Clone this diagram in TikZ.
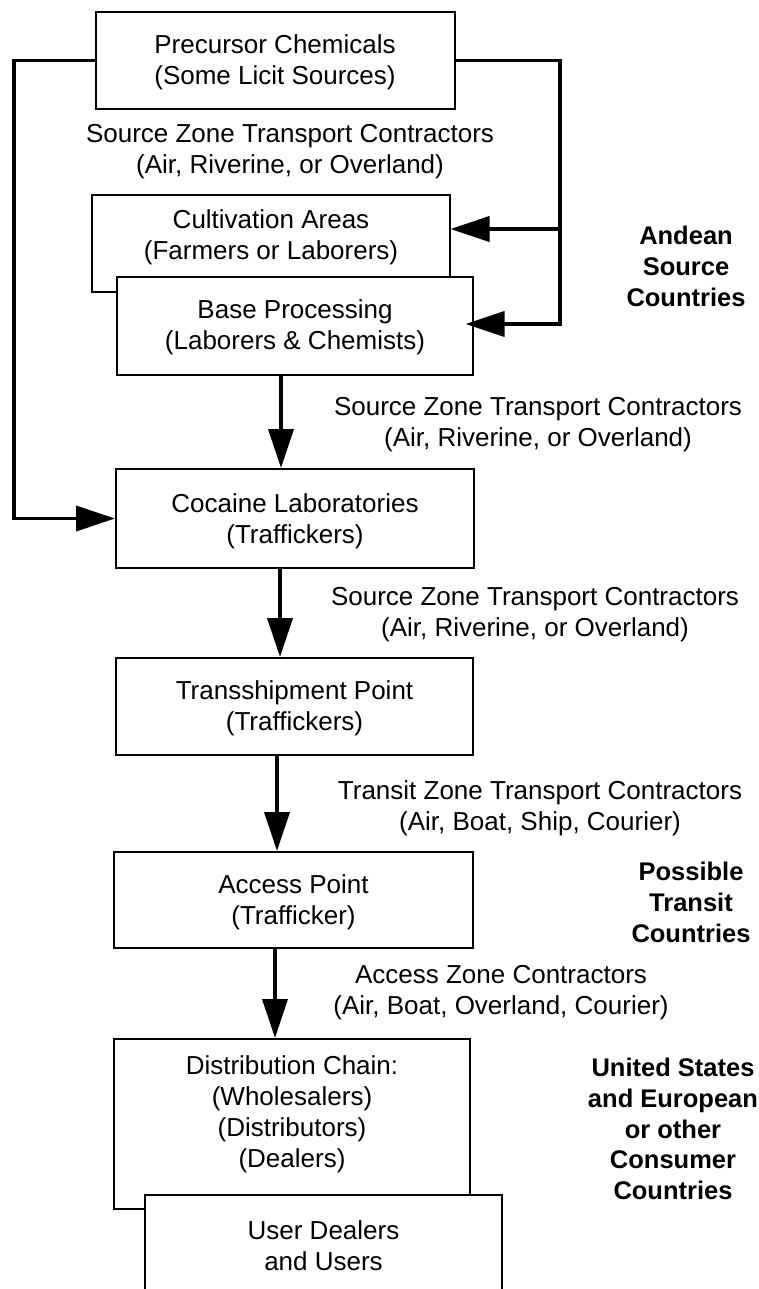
\documentclass[tikz,border=0pt]{standalone}
\usepackage{fontspec}
\setmainfont{Liberation Sans}
\usetikzlibrary{arrows.meta}
\begin{document}
\begin{tikzpicture}[x=1pt,y=-1pt,
  box/.style={draw, line width=2pt, fill=white, align=center, inner sep=0pt},
  lbl/.style={align=center, inner sep=0pt, font=\fontsize{26}{31}\selectfont},
  region/.style={align=center, inner sep=0pt, font=\bfseries\fontsize{25.5}{30.8}\selectfont},
  arr/.style={line width=3.8pt, -{Triangle[length=39pt,width=25pt]}}]
\path[use as bounding box] (0,0) rectangle (759,1289);
\fill[white] (0,0) rectangle (759,1289);
\clip (0,0) rectangle (759,1289);

% boxes
\node[box, minimum width=359pt, minimum height=97pt] (pre) at (275.5,60.5) {};
\node[lbl] (pret) at (275,62) {Precursor Chemicals\\(Some Licit Sources)};
\node[lbl] (sz1) at (290,152) {Source Zone Transport Contractors\\(Air, Riverine, or Overland)};
\node[box, minimum width=358pt, minimum height=97pt] (cult) at (270.5,243.5) {};
\node[lbl] (cultt) at (271,237.5) {Cultivation Areas\\(Farmers or Laborers)};
\node[box, minimum width=356pt, minimum height=98pt] (base) at (294.5,326) {};
\node[lbl] (baset) at (295,327.5) {Base Processing\\(Laborers \& Chemists)};
\node[region] (andean) at (686,266.5) {Andean\\Source\\Countries};

\node[lbl] (sz2) at (538,425) {Source Zone Transport Contractors\\(Air, Riverine, or Overland)};
\node[box, minimum width=358pt, minimum height=99pt] (coc) at (295,518.5) {};
\node[lbl] (coct) at (295,521) {Cocaine Laboratories\\(Traffickers)};
\node[lbl] (sz3) at (535,615) {Source Zone Transport Contractors\\(Air, Riverine, or Overland)};
\node[box, minimum width=357pt, minimum height=97pt] (tra) at (294.5,706.5) {};
\node[lbl] (trat) at (294.5,708) {Transshipment Point\\(Traffickers)};
\node[lbl] (tz) at (540,808) {Transit Zone Transport Contractors\\(Air, Boat, Ship, Courier)};
\node[box, minimum width=359pt, minimum height=96pt] (acc) at (293.5,900) {};
\node[lbl] (acct) at (293.5,902) {Access Point\\(Trafficker)};
\node[region] (ptc) at (691,902.5) {Possible\\Transit\\Countries};
\node[lbl] (az) at (501,992.5) {Access Zone Contractors\\(Air, Boat, Overland, Courier)};
\node[box, minimum width=356pt, minimum height=170pt] (dist) at (292,1124) {};
\node[lbl] (distt) at (292,1114.5) {Distribution Chain:\\(Wholesalers)\\(Distributors)\\(Dealers)};
\node[box, minimum width=357pt, minimum height=110pt] (user) at (323.5,1250) {};
\node[lbl] (usert) at (323.5,1246) {User Dealers\\and Users};
\node[region] (us) at (673,1129) {United States\\and European\\or other\\Consumer\\Countries};

% routing coordinates
\coordinate (tl) at (14,60.5);
\coordinate (tr) at (560,60.5);
\coordinate (cr) at (560,229);
\coordinate (br) at (560,324);
\coordinate (x1) at (281,0);
\coordinate (x2) at (280,0);
\coordinate (x3) at (277,0);
\coordinate (x4) at (275,0);

% connectors
\draw[arr, shorten >=-8pt] (pre.east) -- (tr) -- (br) -- (base.east |- br);
\draw[arr] (cr) -- (cult.east |- cr);
\draw[arr] (pre.west) -- (tl) |- (coc.west);
\draw[arr] (base.south -| x1) -- (coc.north -| x1);
\draw[arr] (coc.south -| x2) -- (tra.north -| x2);
\draw[arr] (tra.south -| x3) -- (acc.north -| x3);
\draw[arr] (acc.south -| x4) -- (dist.north -| x4);
\end{tikzpicture}
\end{document}
